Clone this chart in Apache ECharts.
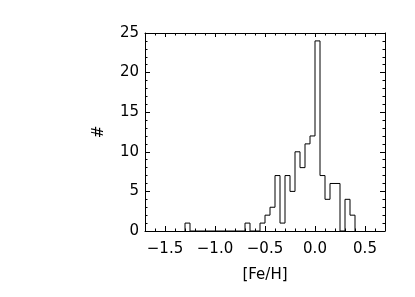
<!DOCTYPE html>
<html>
<head>
<meta charset="utf-8">
<script src="https://cdn.jsdelivr.net/npm/echarts@6/dist/echarts.min.js"></script>
<style>
html,body{margin:0;padding:0;background:#fff;}
#chart{width:415px;height:297px;}
</style>
</head>
<body>
<div id="chart"></div>
<script>
// Histogram bin edges ([Fe/H]) and counts per bin
var binEdges = [-1.30,-1.25,-1.20,-1.15,-1.10,-1.05,-1.00,-0.95,-0.90,-0.85,-0.80,-0.75,-0.70,-0.65,-0.60,-0.55,-0.50,-0.45,-0.40,-0.35,-0.30,-0.25,-0.20,-0.15,-0.10,-0.05,0.00,0.05,0.10,0.15,0.20,0.25,0.30,0.35,0.40];
var binCounts = [1,0,0,0,0,0,0,0,0,0,0,0,1,0,0,1,2,3,7,1,7,5,10,8,11,12,24,7,4,6,6,0,4,2];
var xMajorTicks = [-1.5,-1.0,-0.5,0.0,0.5];
var xMinorTicks = [-1.6,-1.4,-1.3,-1.2,-1.1,-0.9,-0.8,-0.7,-0.6,-0.4,-0.3,-0.2,-0.1,0.1,0.2,0.3,0.4,0.6];
var xRange = [-1.7, 0.7];
var yRange = [0, 25];
var yInterval = 5;
var xTitle = '[Fe/H]';
var yTitle = '#';

var stepData = [[binEdges[0], 0]];
for (var i = 0; i < binCounts.length; i++) stepData.push([binEdges[i], binCounts[i]]);
stepData.push([binEdges[binEdges.length - 1], binCounts[binCounts.length - 1]]);
stepData.push([binEdges[binEdges.length - 1], 0]);

var FONT = 'DejaVu Sans';
var FS = 15;
function fmtX(v){ var s = Math.abs(v).toFixed(1); return (v < -1e-9 ? '\u2212' : '') + s; }

var black = '#000';
function xAx(pos, ticks, len, showLine, showLabel, extra){
  var a = {
    type: 'value', position: pos, min: xRange[0], max: xRange[1],
    axisLine: {show: showLine, onZero: false, lineStyle: {color: black, width: 1}},
    axisTick: {show: true, inside: true, length: len, customValues: ticks, lineStyle: {color: black, width: 1}},
    axisLabel: {show: showLabel, customValues: ticks, formatter: fmtX, color: black, fontFamily: FONT, fontSize: FS, margin: 11},
    splitLine: {show: false}
  };
  for (var k in extra) a[k] = extra[k];
  return a;
}
function yAx(pos, showLabel, extra){
  var a = {
    type: 'value', position: pos, min: yRange[0], max: yRange[1], interval: yInterval,
    axisLine: {show: true, onZero: false, lineStyle: {color: black, width: 1}},
    axisTick: {show: true, inside: true, length: 5, lineStyle: {color: black, width: 1}},
    minorTick: {show: true, splitNumber: 5, length: 2.5, lineStyle: {color: black, width: 1}},
    axisLabel: {show: showLabel, color: black, fontFamily: FONT, fontSize: FS, margin: 6},
    splitLine: {show: false}, minorSplitLine: {show: false}
  };
  for (var k in extra) a[k] = extra[k];
  return a;
}

var chart = echarts.init(document.getElementById('chart'), null, {renderer: 'canvas'});
chart.setOption({
  backgroundColor: '#fff',
  animation: false,
  grid: {left: 145, right: 30, top: 33, bottom: 66, containLabel: false},
  xAxis: [
    xAx('bottom', xMajorTicks, 5, true, true, {name: xTitle, nameLocation: 'middle', nameGap: 37, nameTextStyle: {color: black, fontFamily: FONT, fontSize: FS}}),
    xAx('bottom', xMinorTicks, 2.5, false, false, {}),
    xAx('top', xMajorTicks, 4, true, false, {}),
    xAx('top', xMinorTicks, 2.5, false, false, {})
  ],
  yAxis: [
    yAx('left', true, {name: yTitle, nameLocation: 'middle', nameGap: 38, nameRotate: 90, nameTextStyle: {color: black, fontFamily: FONT, fontSize: FS}}),
    yAx('right', false, {})
  ],
  series: [{
    type: 'line', xAxisIndex: 0, yAxisIndex: 0, step: 'end', symbol: 'none',
    lineStyle: {color: black, width: 1}, data: stepData, clip: false
  }]
});
</script>
</body>
</html>
